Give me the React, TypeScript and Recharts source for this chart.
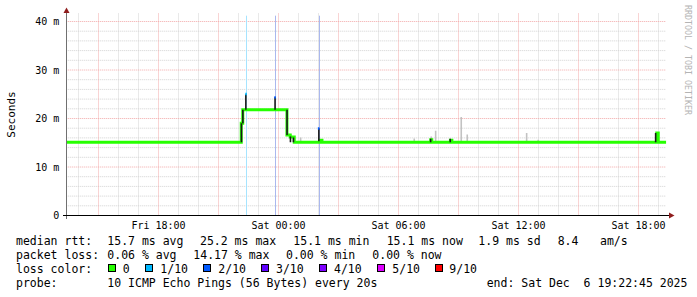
import React from "react";
import { ComposedChart, Line, XAxis, YAxis, CartesianGrid } from "recharts";

// Time axis: hours since Fri Dec 5 13:22:45 2025 (30 h window, end Sat Dec 6 19:22:45)
const xTickHours = [4.6125, 10.6125, 16.6125, 22.6125, 28.6125];
const xTickLabels = ["Fri 18:00", "Sat 00:00", "Sat 06:00", "Sat 12:00", "Sat 18:00"];
const yTickValues = [0, 10, 20, 30, 40];
const yTickLabels = ["0", "10 m", "20 m", "30 m", "40 m"];

// grid
const majorGridHours = [1.6125, 4.6125, 7.6125, 10.6125, 13.6125, 16.6125, 19.6125, 22.6125, 25.6125, 28.6125];
const minorGridHours = [0.6125, 2.6125, 3.6125, 5.6125, 6.6125, 8.6125, 9.6125, 11.6125, 12.6125, 14.6125, 15.6125, 17.6125, 18.6125, 20.6125, 21.6125, 23.6125, 24.6125, 26.6125, 27.6125, 29.6125];
const majorGridMs = [10, 20, 30, 40];
const minorGridMs = [2, 4, 6, 8, 12, 14, 16, 18, 22, 24, 26, 28, 32, 34, 36, 38];

// median rtt (ms), step changes
const medianHours = [0, 8.75, 8.825, 11.035, 11.2, 11.4, 12.665, 12.785, 18.225, 18.275, 19.21, 19.28, 29.525, 29.6, 30];
const medianMs = [15.1, 19.0, 21.8, 16.6, 16.2, 15.1, 15.5, 15.1, 15.6, 15.1, 15.5, 15.1, 17.0, 15.1, 15.1];

// dark smoke (ms ranges)
const darkHours = [8.76, 8.83, 8.98, 10.44, 11.04, 11.21, 11.36, 12.63, 18.22, 19.2, 29.47];
const darkLow = [15.1, 19.0, 21.8, 21.8, 16.6, 15.1, 15.1, 15.3, 15.1, 15.1, 15.1];
const darkHigh = [19.0, 21.8, 25.0, 24.4, 21.8, 16.3, 16.1, 18.0, 15.8, 15.8, 17.0];

// light smoke (ms ranges)
const smokeHours = [11.72, 17.4, 18.25, 18.47, 19.75, 20.05, 23.02, 23.6];
const smokeLow = [15.2, 15.1, 15.1, 15.1, 15.2, 15.1, 15.1, 15.1];
const smokeHigh = [16.1, 15.9, 16.3, 17.5, 20.3, 16.7, 17.0, 15.6];

// loss events
const lossHours = [9.0125, 10.4625, 12.6625];
const lossLevel = ["1/10", "2/10", "2/10"];
const lossTipHours = [8.99, 10.44, 12.62];
const lossTipLow = [24.8, 24.1, 17.7];
const lossTipHigh = [25.3, 24.6, 18.2];
const lossTop = 41.2;

// legend
const lossLevels = ["0", "1/10", "2/10", "3/10", "4/10", "5/10", "9/10"];
const lossColors: Record<string, string> = {
  "0": "#26ff00",
  "1/10": "#00b8ff",
  "2/10": "#0059ff",
  "3/10": "#5e00ff",
  "4/10": "#7e00ff",
  "5/10": "#dd00ff",
  "9/10": "#ff0000",
};
const lossLightColors: Record<string, string> = {
  "1/10": "#a6e4ff",
  "2/10": "#aab8ee",
};
const medianStats = ["15.7 ms avg", "25.2 ms max", "15.1 ms min", "15.1 ms now", "1.9 ms sd", "8.4", "am/s"];
const lossStats = ["0.06 % avg", "14.17 % max", "0.00 % min", "0.00 % now"];
const probeText = "10 ICMP Echo Pings (56 Bytes) every 20s";
const endText = "end: Sat Dec\u00a0\u00a06 19:22:45 2025";

// layout of legend items
const medianStatX = [107.3, 200, 293.3, 386.7, 478.3, 557.7, 600];
const lossStatX = [107.3, 193.3, 286, 372.3];
const lossBoxX = [108.5, 145.5, 203.5, 261.5, 319.5, 377.5, 435.5];
const lossLabelX = [122.7, 160.3, 218.3, 276, 334, 392.3, 449.3];

type Pt = { t: number; v: number | null };

const stepData: Pt[] = medianHours.map((t, i) => ({ t, v: medianMs[i] }));

function segments(hours: number[], lows: number[], highs: number[]): Pt[] {
  const out: Pt[] = [];
  hours.forEach((t, i) => {
    out.push({ t, v: lows[i] });
    out.push({ t, v: highs[i] });
    out.push({ t, v: null });
  });
  return out;
}

const darkData = segments(darkHours, darkLow, darkHigh);
const smokeData = segments(smokeHours, smokeLow, smokeHigh);

const MONO = "'DejaVu Sans Mono', monospace";

export default function App() {
  const W = 697;
  const H = 297;
  return (
    <div style={{ position: "absolute", left: 0, top: 0, width: W, height: H, background: "#fff" }}>
      <ComposedChart
        width={W}
        height={H}
        margin={{ top: 13.5, right: 30.75, bottom: 61.5, left: 0.25 }}
      >
        <CartesianGrid
          horizontalValues={minorGridMs}
          verticalValues={minorGridHours}
          stroke="#d2d2d2"
          strokeDasharray="1 1"
        />
        <CartesianGrid
          horizontalValues={majorGridMs}
          verticalValues={majorGridHours}
          stroke="#f2a8a8"
          strokeDasharray="1 1"
        />
        <XAxis
          type="number"
          dataKey="t"
          domain={[0, 30]}
          ticks={xTickHours}
          tickFormatter={(v: number) => xTickLabels[xTickHours.indexOf(v)] ?? ""}
          axisLine={false}
          tickLine={false}
          tickSize={0}
          tickMargin={6}
          height={20}
          interval={0}
          allowDataOverflow
          tick={{ fill: "#000", fontSize: 10, fontFamily: MONO }}
        />
        <YAxis
          type="number"
          domain={[0, 41.65]}
          ticks={yTickValues}
          tickFormatter={(v: number) => yTickLabels[yTickValues.indexOf(v)] ?? ""}
          axisLine={false}
          tickLine={false}
          tickSize={0}
          tickMargin={7}
          width={66}
          interval={0}
          allowDataOverflow
          tick={{ fill: "#000", fontSize: 10, fontFamily: MONO }}
        />
        {lossHours.map((t, i) => (
          <Line
            key={"loss" + i}
            data={[{ t, v: 0 }, { t, v: lossTop }]}
            dataKey="v"
            type="linear"
            stroke={lossLightColors[lossLevel[i]]}
            strokeWidth={1}
            dot={false}
            activeDot={false}
            isAnimationActive={false}
          />
        ))}
        <Line
          data={smokeData}
          dataKey="v"
          type="linear"
          stroke="#c2c2c2"
          strokeWidth={1.6}
          dot={false}
          activeDot={false}
          connectNulls={false}
          isAnimationActive={false}
        />
        <Line
          data={stepData}
          dataKey="v"
          type="stepAfter"
          stroke={lossColors["0"]}
          strokeWidth={3}
          dot={false}
          activeDot={false}
          isAnimationActive={false}
        />
        <Line
          data={darkData}
          dataKey="v"
          type="linear"
          stroke="#1a1a1a"
          strokeWidth={1.6}
          dot={false}
          activeDot={false}
          connectNulls={false}
          isAnimationActive={false}
        />
        {lossTipHours.map((t, i) => (
          <Line
            key={"tip" + i}
            data={[{ t, v: lossTipLow[i] }, { t, v: lossTipHigh[i] }]}
            dataKey="v"
            type="linear"
            stroke={lossColors[lossLevel[i]]}
            strokeWidth={1.6}
            dot={false}
            activeDot={false}
            isAnimationActive={false}
          />
        ))}
      </ComposedChart>
      <svg
        width={W}
        height={H}
        style={{ position: "absolute", left: 0, top: 0, pointerEvents: "none" }}
      >
        {/* axes */}
        <line x1={66.5} y1={9} x2={66.5} y2={219} stroke="#707070" strokeWidth={1} />
        <line x1={63} y1={215.5} x2={669} y2={215.5} stroke="#000" strokeWidth={1} />
        <polygon points="66.5,7.5 63.5,13 69.5,13" fill="#8f1d1d" />
        <polygon points="674.5,215.5 669,212.5 669,218.5" fill="#8f1d1d" />
        {/* axis title */}
        <text
          transform="translate(15,114.5) rotate(-90)"
          textAnchor="middle"
          fontFamily={MONO}
          fontSize={11}
          fill="#000"
        >
          Seconds
        </text>
        <text
          transform="translate(685,5) rotate(90)"
          fontFamily={MONO}
          fontSize={8.3}
          fill="#b4b4b4"
        >
          RRDTOOL / TOBI OETIKER
        </text>
        {/* legend */}
        <g fontFamily={MONO} fontSize={11.5} fill="#000">
          <text x={16} y={245}>median rtt:</text>
          {medianStats.map((s, i) => (
            <text key={"m" + i} x={medianStatX[i]} y={245}>{s}</text>
          ))}
          <text x={16} y={259}>packet loss:</text>
          {lossStats.map((s, i) => (
            <text key={"l" + i} x={lossStatX[i]} y={259}>{s}</text>
          ))}
          <text x={16} y={272.5}>loss color:</text>
          {lossLevels.map((lv, i) => (
            <g key={"c" + i}>
              <rect x={lossBoxX[i]} y={264.5} width={7} height={7} fill={lossColors[lv]} stroke="#000" strokeWidth={1} />
              <text x={lossLabelX[i]} y={272.5}>{lv}</text>
            </g>
          ))}
          <text x={16} y={286.5}>probe:</text>
          <text x={107.3} y={286.5}>{probeText}</text>
          <text x={486.7} y={286.5}>{endText}</text>
        </g>
      </svg>
    </div>
  );
}
